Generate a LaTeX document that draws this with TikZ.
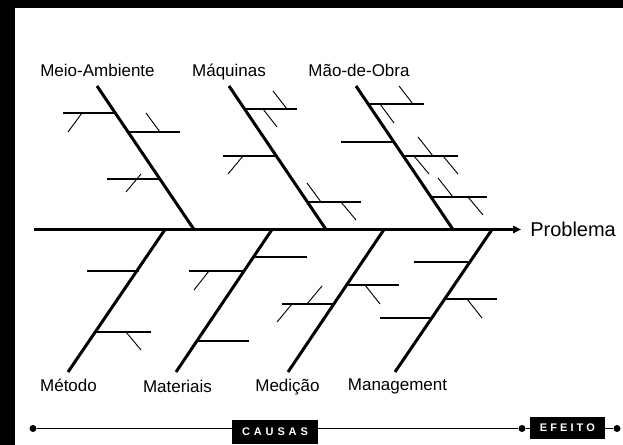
\documentclass[tikz,border=0pt]{standalone}
\usepackage{fontspec}
\setmainfont{Liberation Sans}
\usetikzlibrary{arrows.meta}
\begin{document}
\begin{tikzpicture}[x=0.75pt,y=-0.75pt,
  spine/.style={line width=2.25pt},
  axisline/.style={line width=2.25pt},
  branch/.style={line width=1.05pt},
  twig/.style={line width=0.7pt},
  barline/.style={line width=1.25pt},
  cat/.style={font=\fontsize{12.75}{15}\selectfont, inner sep=0pt},
  tagbox/.style={fill=black, text=white, font=\bfseries\fontsize{8.25}{10}\selectfont, inner sep=0pt, text height=5.9pt, text depth=0pt, align=center},
  dot/.style={circle, fill=black, inner sep=0pt, minimum size=5.25pt}
]
\fill[white] (0,0) rectangle (623,445);
\useasboundingbox (0,0) rectangle (623,445);
\fill[black] (0,0) rectangle (623,8);
\fill[black] (0,0) rectangle (15,445);

% spine end points
\coordinate (t1) at (97,86);   \coordinate (e1) at (194,229.5);
\coordinate (t2) at (229,86);  \coordinate (e2) at (326,229.5);
\coordinate (t3) at (356,86);  \coordinate (e3) at (453,229.5);
\coordinate (s4) at (165,229.5); \coordinate (u4) at (68,372);
\coordinate (s5) at (272,229.5); \coordinate (u5) at (176,372);
\coordinate (s6) at (384,229.5); \coordinate (u6) at (288,372);
\coordinate (s7) at (492,229.5); \coordinate (u7) at (395,372);

% category labels
\node[cat, anchor=base] (lmeio) at (97.5,77) {Meio-Ambiente};
\node[cat, anchor=base] (lmaq) at (229,77) {Máquinas};
\node[cat, anchor=base] (lmao) at (359,77) {Mão-de-Obra};
\node[cat, anchor=base] (lmet) at (68.5,391) {Método};
\node[cat, anchor=base] (lmat) at (177.5,392.5) {Materiais};
\node[cat, anchor=base] (lmed) at (287.5,391.5) {Medição};
\node[cat, anchor=base] (lman) at (397.5,390) {Management};

% main axis
\coordinate (a0) at (34,229.5);
\coordinate (a1) at (521,229.5);
\node[font=\fontsize{15}{18}\selectfont, inner sep=0pt, anchor=base west] (prob) at (530,236) {Problema};
\draw[axisline, -{Triangle[length=6pt,width=5.5pt]}] (a0) -- (a1);

% spines
\draw[spine] (t1) -- (e1);
\draw[spine] (t2) -- (e2);
\draw[spine] (t3) -- (e3);
\draw[spine] (s4) -- (u4);
\draw[spine] (s5) -- (u5);
\draw[spine] (s6) -- (u6);
\draw[spine] (s7) -- (u7);

% Meio-Ambiente
\draw[branch] (63,113) -- (115,113);
\draw[twig] (82,113) -- (68,132);
\draw[branch] (127,132) -- (180,132);
\draw[twig] (146,113) -- (160,132);
\draw[branch] (107,179) -- (160,179);
\draw[twig] (141,174) -- (126,192);

% Maquinas
\draw[branch] (245,109) -- (297,109);
\draw[twig] (273,91) -- (287,109);
\draw[twig] (263,109) -- (277,127);
\draw[branch] (223,156) -- (276,156);
\draw[twig] (243,156) -- (228,174);
\draw[branch] (308,202) -- (361,202);
\draw[twig] (307,183) -- (321,202);
\draw[twig] (341,202) -- (356,220);

% Mao-de-Obra
\draw[branch] (369,104) -- (424,104);
\draw[twig] (399,86) -- (413,104);
\draw[twig] (380,104) -- (394,123);
\draw[branch] (341,142) -- (393,142);
\draw[branch] (403,156) -- (458,156);
\draw[twig] (418,137) -- (433,156);
\draw[twig] (414,156) -- (429,174);
\draw[twig] (443,156) -- (458,174);
\draw[branch] (432,197) -- (487,197);
\draw[twig] (438,178) -- (453,197);
\draw[twig] (468,197) -- (483,215);

% Metodo
\draw[branch] (87,271) -- (139,271);
\draw[branch] (96,332) -- (151,332);
\draw[twig] (126,332) -- (141,350);

% Materiais
\draw[branch] (254,257) -- (307,257);
\draw[branch] (189,271) -- (244,271);
\draw[twig] (209,271) -- (194,290);
\draw[branch] (196,341) -- (249,341);

% Medicao
\draw[branch] (282,304) -- (334,304);
\draw[twig] (292,304) -- (277,322);
\draw[twig] (322,286) -- (307,304);
\draw[branch] (347,285) -- (399,285);
\draw[twig] (365,285) -- (380,304);

% Management
\draw[branch] (414,262) -- (469,262);
\draw[branch] (445,299) -- (497,299);
\draw[twig] (467,299) -- (482,318);
\draw[branch] (380,318) -- (432,318);

% bottom bar
\node[dot] (d1) at (33,428.5) {};
\node[dot] (d2) at (522,428.5) {};
\node[dot] (d3) at (617,428.5) {};
\draw[barline] (d1) -- (d2);
\draw[barline] (d2) -- (d3);
\node[tagbox, minimum width=64.5pt, minimum height=18pt] (causas) at (275,431.5) {C\kern2.9pt A\kern2.9pt U\kern2.9pt S\kern2.9pt A\kern2.9pt S};
\node[tagbox, minimum width=56.25pt, minimum height=16.5pt] (efeito) at (567.5,427.5) {E\kern2.3pt F\kern2.3pt E\kern2.3pt I\kern2.3pt T\kern2.3pt O};
\end{tikzpicture}
\end{document}
